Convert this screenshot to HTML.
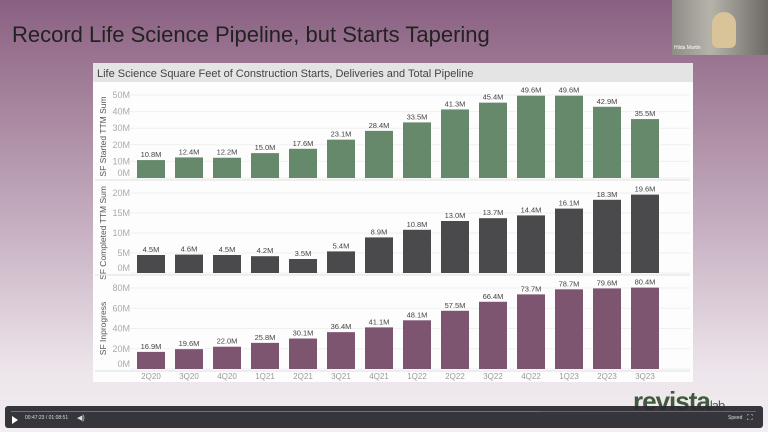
<!DOCTYPE html>
<html><head><meta charset="utf-8"><style>
body{margin:0;width:768px;height:432px;overflow:hidden;font-family:"Liberation Sans",sans-serif;}
#bg{position:absolute;left:0;top:0;width:768px;height:432px;background:linear-gradient(#8a6082 0%,#a17e98 20%,#c9b3c4 55%,#ece4ea 85%,#f2eef1 100%);}
</style></head><body>
<div id="bg"></div>
<div style="position:absolute;left:12px;top:22px;font-size:22px;color:#222;">Record Life Science Pipeline, but Starts Tapering</div>
<div style="position:absolute;left:672px;top:0;width:96px;height:55px;background:linear-gradient(90deg,#8e8c86,#b6b3ab 40%,#6d6a66);">
<div style="position:absolute;left:40px;top:12px;width:24px;height:36px;border-radius:12px 12px 6px 6px;background:#d8c498;"></div>
<div style="position:absolute;left:2px;top:45px;font-size:5px;color:#fff;">Hilda Martin</div></div>
<svg id="chart" width="768" height="432" style="position:absolute;left:0;top:0">
<rect x="93" y="63" width="600" height="319" fill="#fdfdfd"/>
<rect x="93" y="63" width="600" height="19" fill="#e4e4e4"/>
<text x="97" y="77" font-size="11" fill="#444">Life Science Square Feet of Construction Starts, Deliveries and Total Pipeline</text>
<g id="marks"></g>
</svg>
<div style="position:absolute;left:633px;top:386px;font-size:26px;font-weight:bold;color:#3f5a3c;letter-spacing:-1px;">revista<span style="font-size:13px;font-weight:normal;color:#555;">lab</span></div>
<div style="position:absolute;left:5px;top:406px;width:758px;height:22px;background:rgba(43,43,48,0.95);border-radius:3px;">
<div style="position:absolute;left:6px;top:5px;width:745px;height:1px;background:#666;"></div>
<div style="position:absolute;left:6px;top:5px;width:528px;height:1px;background:#3a7bd5;"></div>
<div style="position:absolute;left:7px;top:10px;width:0;height:0;border-left:6px solid #fff;border-top:4px solid transparent;border-bottom:4px solid transparent;"></div>
<div style="position:absolute;left:20px;top:9px;font-size:5px;color:#ddd;">00:47:23 / 01:08:51</div>
<div style="position:absolute;left:72px;top:8px;font-size:7px;color:#ddd;">◀)</div>
<div style="position:absolute;left:723px;top:9px;font-size:5px;color:#ddd;">Speed</div>
<div style="position:absolute;left:742px;top:7px;font-size:8px;color:#ddd;">⛶</div>
</div>
<script>
const quarters=["2Q20","3Q20","4Q20","1Q21","2Q21","3Q21","4Q21","1Q22","2Q22","3Q22","4Q22","1Q23","2Q23","3Q23"];
const started=[10.8,12.4,12.2,15.0,17.6,23.1,28.4,33.5,41.3,45.4,49.6,49.6,42.9,35.5];
const completed=[4.5,4.6,4.5,4.2,3.5,5.4,8.9,10.8,13.0,13.7,14.4,16.1,18.3,19.6];
const inprogress=[16.9,19.6,22.0,25.8,30.1,36.4,41.1,48.1,57.5,66.4,73.7,78.7,79.6,80.4];
const startedTicks=[0,10,20,30,40,50];
const completedTicks=[0,5,10,15,20];
const inprogressTicks=[0,20,40,60,80];
const NS="http://www.w3.org/2000/svg";
const g=document.getElementById("marks");
function mk(t,a,txt){const e=document.createElementNS(NS,t);for(const k in a)e.setAttribute(k,a[k]);if(txt!==undefined)e.textContent=txt;g.appendChild(e);return e;}
const x0=137,step=38,bw=28;
function xPos(i){return x0+i*step;}
const panels=[
 {vals:started,ticks:startedTicks,zero:178,max:50,top:95,color:"#66896c",title:"SF Started TTM Sum",name:"started"},
 {vals:completed,ticks:completedTicks,zero:273,max:20,top:193,color:"#4a494b",title:"SF Completed TTM Sum",name:"completed"},
 {vals:inprogress,ticks:inprogressTicks,zero:369,max:80,top:288,color:"#7d5570",title:"SF Inprogress",name:"inprogress"}
];
panels.forEach(p=>{
 const y=v=>p.zero-(v/p.max)*(p.zero-p.top);
 p.ticks.forEach(t=>{
  const gl=mk("line",{x1:130,x2:690,y1:y(t),y2:y(t),stroke:"#f0f0f0"});
  
  
  const tl=mk("text",{x:130,y:Math.min(y(t),p.zero-5)+3,"font-size":9,fill:"#aaa","text-anchor":"end"},t+"M");
  
  
 });
 const cy=(p.zero+p.top)/2;
 const at=mk("text",{x:0,y:0,"font-size":8.5,fill:"#555","text-anchor":"middle",transform:`translate(106,${cy}) rotate(-90)`},p.title);
 
 
 p.vals.forEach((v,i)=>{
  const b=mk("rect",{x:xPos(i),y:y(v),width:bw,height:p.zero-y(v),fill:p.color});
  
  
  const l=mk("text",{x:xPos(i)+bw/2,y:y(v)-3,"font-size":7.5,fill:"#444","text-anchor":"middle"},v.toFixed(1)+"M");
  
  
 });
 const sep=mk("line",{x1:95,x2:690,y1:p.zero+2,y2:p.zero+2,stroke:"#e0e0e0"});
 
 
});
quarters.forEach((q,i)=>{
 const t=mk("text",{x:xPos(i)+bw/2,y:379,"font-size":8,fill:"#999","text-anchor":"middle"},q);
 
 
});
</script>
</body></html>
